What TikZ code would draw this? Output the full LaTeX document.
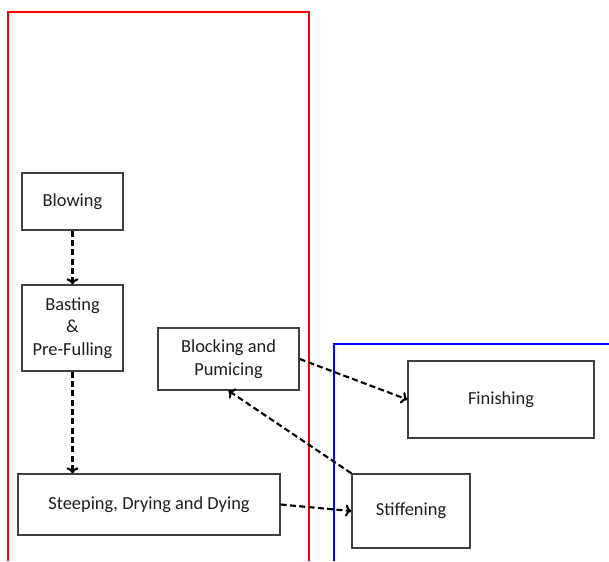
\documentclass[tikz,border=0pt]{standalone}
\usepackage{fontspec}
\setmainfont{Carlito}
\usepackage{xcolor}
\usetikzlibrary{arrows,arrows.meta,positioning,shadows}
\definecolor{boxgray}{RGB}{64,64,64}
\definecolor{textgray}{RGB}{30,30,30}
\tikzset{
  stagebox/.style = {draw = boxgray, line width = 1pt, fill = white, align = center, inner sep = 0pt,
    text = textgray, font = \fontsize{13.8}{16.8}\selectfont,
    drop shadow = {shadow xshift = 1pt, shadow yshift = -1pt, opacity = .25}},
  flow/.style = {-{To[length = 4.5pt, width = 9pt]}, line width = 1.6pt, dash pattern = on 4.5pt off 2.5pt}
}

\begin{document}
\begin{tikzpicture}[x = .75pt, y = -.75pt]
    \useasboundingbox (0,0) rectangle (609,561);
    % phase frames
    \draw[red, line width = 2pt] (8,561) -- (8,12) -- (309,12) -- (309,561);
    \draw[blue, line width = 2pt] (334,561) -- (334,344) -- (609,344);
    % stages
    \node[stagebox, minimum width = 75.75pt, minimum height = 42.75pt] (blowing) at (72.5,201.5) {Blowing};
    \node[stagebox, minimum width = 75.75pt, minimum height = 64.5pt] (basting) at (72.5,328) {Basting\\\&\\Pre-Fulling};
    \node[stagebox, minimum width = 105.75pt, minimum height = 46.5pt] (blocking) at (228.5,359) {Blocking and\\Pumicing};
    \node[stagebox, minimum width = 139.5pt, minimum height = 57.75pt] (finishing) at (501,399.5) {Finishing};
    \node[stagebox, minimum width = 196.5pt, minimum height = 45.75pt] (steeping) at (149,504.5) {Steeping, Drying and Dying};
    \node[stagebox, minimum width = 88.5pt, minimum height = 55.5pt] (stiffening) at (411,511) {Stiffening};
    % flow
    \draw[flow] (blowing) -- (basting);
    \draw[flow] (basting.south) -- (basting.south |- steeping.north);
    \draw[flow] (steeping.east) -- (stiffening.west);
    \draw[flow] (blocking.east) -- (finishing.west);
    \draw[flow] (stiffening.north west) -- (blocking.south);
\end{tikzpicture}
\end{document}
